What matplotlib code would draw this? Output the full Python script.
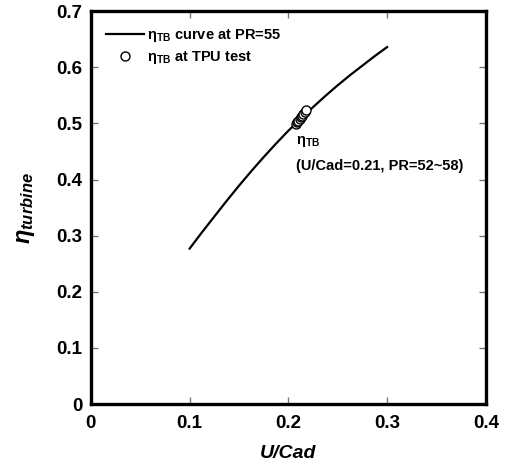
import matplotlib
matplotlib.use('Agg')
import matplotlib.pyplot as plt

plt.rcParams['font.family'] = 'Liberation Sans'
plt.rcParams['font.weight'] = 'bold'
plt.rcParams['mathtext.fontset'] = 'custom'
plt.rcParams['mathtext.rm'] = 'Liberation Sans:bold'
plt.rcParams['mathtext.bf'] = 'Liberation Sans:bold'
plt.rcParams['mathtext.it'] = 'Liberation Sans:italic:bold'

# efficiency curve at PR=55
u_curve = [0.1000, 0.1125, 0.1250, 0.1375, 0.1500, 0.1625, 0.1750, 0.1875, 0.2000,
           0.2125, 0.2250, 0.2375, 0.2500, 0.2625, 0.2750, 0.2875, 0.3000]
eta_curve = [0.277, 0.306, 0.334, 0.362, 0.389, 0.415, 0.440, 0.464, 0.487,
             0.508, 0.529, 0.549, 0.568, 0.586, 0.603, 0.620, 0.636]

# TPU test points (U/Cad ~0.21, PR=52~58)
u_test = [0.2076, 0.2089, 0.2101, 0.2114, 0.2127, 0.2139, 0.2152, 0.2165, 0.2177]
eta_test = [0.499, 0.502, 0.505, 0.508, 0.511, 0.514, 0.517, 0.520, 0.524]

xticks = [0, 0.1, 0.2, 0.3, 0.4]
yticks = [0, 0.1, 0.2, 0.3, 0.4, 0.5, 0.6, 0.7]

fig = plt.figure(figsize=(5.05, 4.66), dpi=100)
ax = fig.add_axes([0.180, 0.133, 0.782, 0.843])

ax.plot(u_curve, eta_curve, color='black', lw=1.6,
        label=r'$\mathbf{\eta}_{\mathbf{TB}}$ curve at PR=55')
ax.plot(u_test, eta_test, 'o', ls='none', mfc='white', mec='black',
        ms=6.5, mew=1.0, label=r'$\mathbf{\eta}_{\mathbf{TB}}$ at TPU test')

ax.text(0.2075, 0.455, r'$\mathbf{\eta}_{\mathbf{TB}}$', fontsize=10.5,
        fontweight='bold', va='bottom', ha='left')
ax.text(0.2075, 0.425, '(U/Cad=0.21, PR=52~58)', fontsize=10.5,
        fontweight='bold', va='center', ha='left')

ax.set_xlim(0, 0.4)
ax.set_ylim(0, 0.7)
ax.set_xticks(xticks)
ax.set_yticks(yticks)
ax.set_xticklabels(['0', '0.1', '0.2', '0.3', '0.4'])
ax.set_yticklabels(['0', '0.1', '0.2', '0.3', '0.4', '0.5', '0.6', '0.7'])
ax.tick_params(direction='in', length=5, width=1, color='#777777',
               top=True, right=True, labelsize=13.5)
ax.tick_params(axis='x', pad=8)
ax.tick_params(axis='y', pad=6)
for sp in ax.spines.values():
    sp.set_linewidth(2.4)

ax.set_xlabel('U/Cad', fontsize=14, fontweight='bold', style='italic', labelpad=9)
ax.set_ylabel(r'$\eta_{turbine}$', fontsize=17, labelpad=14)

ax.legend(loc='upper left', bbox_to_anchor=(0.012, 0.985), frameon=False,
          fontsize=10.5, handlelength=2.6, handletextpad=0.25,
          labelspacing=0.3, borderaxespad=0.3)

fig.savefig('out.png', dpi=100)
